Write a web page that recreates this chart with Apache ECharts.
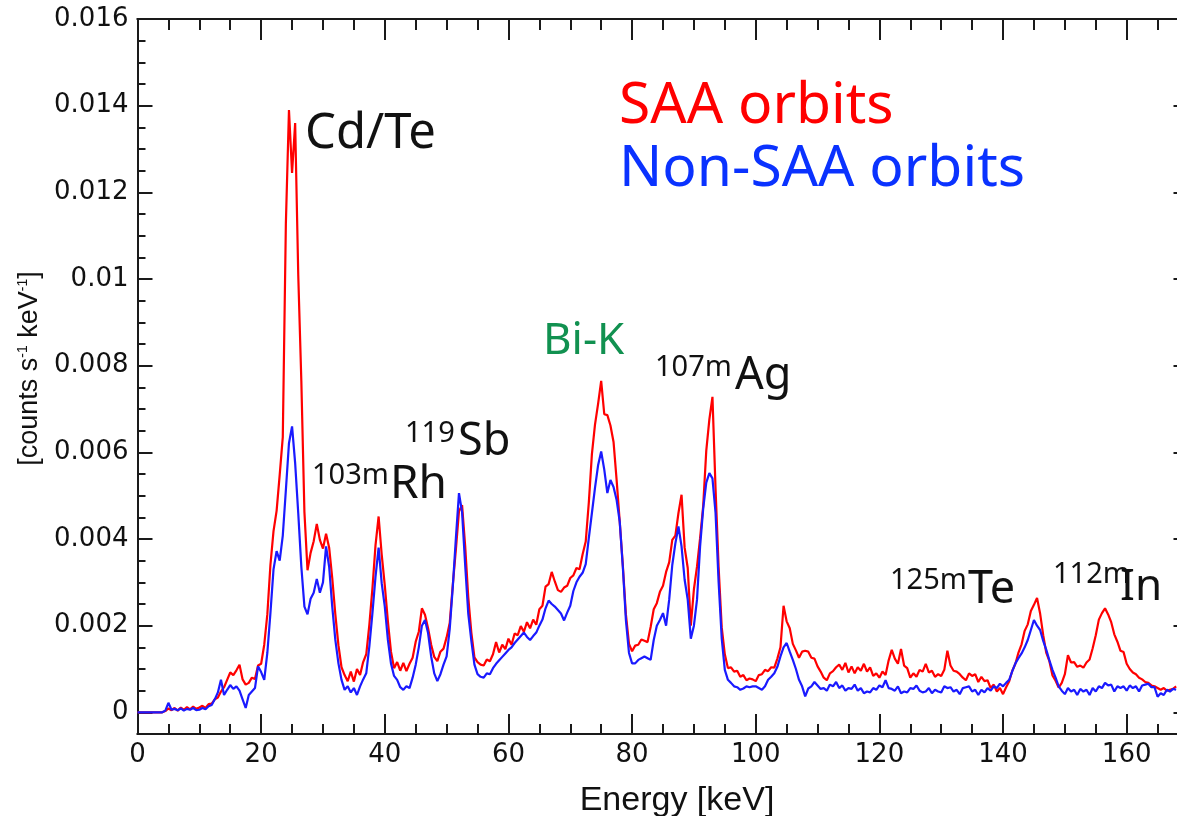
<!DOCTYPE html>
<html>
<head>
<meta charset="utf-8">
<script src="https://cdn.jsdelivr.net/npm/echarts@6/dist/echarts.min.js"></script>
<style>
  html, body { margin: 0; padding: 0; background: #fff; }
  #chart { width: 1177px; height: 816px; }
</style>
</head>
<body>
<div id="chart"></div>
<script>
// spectrum values in units of 1e-5 counts s^-1 keV^-1, one per 0.5 keV bin from 0 keV
const binWidth = 0.5

const saaOrbits = [
  0, 0, 0, 0, 0, 0, 0, 0, 0, 3, 9, 5, 10, 4, 11, 6, 12, 7, 13, 8,
  11, 15, 10, 19, 20, 30, 34, 48, 58, 75, 92, 86, 97, 110, 76, 64, 68, 80, 77, 108,
  112, 156, 226, 340, 418, 465, 548, 635, 1129, 1390, 1245, 1360, 1010, 765, 462, 328, 368, 395, 435, 398,
  378, 412, 380, 310, 226, 155, 104, 86, 72, 94, 71, 100, 86, 116, 134, 202, 286, 386, 452, 364,
  293, 210, 140, 102, 116, 96, 114, 95, 112, 126, 163, 186, 240, 225, 194, 156, 128, 118, 140, 147,
  173, 206, 294, 376, 464, 478, 384, 266, 184, 127, 116, 110, 108, 122, 118, 134, 162, 138, 156, 146,
  170, 156, 182, 178, 199, 186, 208, 194, 214, 202, 238, 246, 290, 296, 324, 302, 282, 278, 288, 292,
  310, 316, 333, 330, 365, 394, 484, 596, 664, 712, 765, 688, 686, 662, 624, 536, 440, 340, 226, 158,
  141, 154, 156, 168, 165, 162, 197, 238, 252, 278, 292, 324, 346, 398, 408, 460, 502, 380, 333, 200,
  284, 336, 402, 476, 604, 676, 728, 516, 334, 196, 134, 102, 104, 94, 96, 82, 86, 74, 78, 76,
  72, 86, 88, 98, 95, 104, 103, 124, 150, 246, 210, 194, 158, 143, 126, 140, 142, 140, 126, 124,
  106, 94, 80, 74, 90, 95, 104, 110, 98, 114, 92, 106, 90, 104, 96, 112, 94, 104, 84, 90,
  80, 94, 86, 120, 144, 124, 112, 146, 108, 102, 80, 90, 82, 98, 94, 112, 92, 96, 82, 88,
  84, 98, 142, 108, 96, 94, 88, 80, 74, 90, 84, 88, 70, 82, 72, 74, 56, 64, 48, 56,
  42, 58, 72, 96, 112, 138, 157, 188, 203, 234, 248, 264, 228, 178, 137, 118, 85, 73, 57, 68,
  88, 132, 115, 116, 105, 108, 103, 115, 122, 148, 178, 214, 229, 240, 226, 208, 180, 163, 142, 139,
  112, 100, 92, 88, 80, 76, 70, 68, 62, 60, 56, 52, 56, 50, 52, 54, 60
]

const nonSaaOrbits = [
  0, 0, 0, 0, 0, 0, 0, 0, 0, 4, 22, 6, 8, 5, 9, 4, 8, 6, 10, 5,
  6, 10, 7, 14, 17, 30, 46, 75, 40, 52, 63, 54, 60, 50, 30, 10, 40, 48, 56, 106,
  93, 75, 137, 229, 330, 372, 350, 408, 513, 621, 660, 575, 460, 336, 244, 226, 262, 276, 308, 276,
  300, 383, 336, 244, 167, 113, 75, 52, 60, 46, 56, 40, 60, 76, 90, 152, 229, 313, 380, 298,
  244, 167, 113, 84, 75, 58, 52, 60, 56, 80, 110, 150, 200, 213, 183, 129, 90, 72, 88, 110,
  129, 192, 290, 402, 506, 462, 340, 228, 165, 110, 88, 82, 80, 90, 88, 102, 112, 120, 128, 136,
  144, 150, 160, 168, 176, 184, 174, 167, 176, 184, 200, 214, 240, 258, 250, 244, 236, 228, 212, 230,
  246, 280, 300, 313, 322, 342, 402, 460, 518, 570, 602, 560, 506, 536, 520, 490, 440, 336, 213, 137,
  113, 113, 121, 125, 129, 125, 121, 167, 200, 213, 229, 200, 260, 340, 390, 429, 383, 306, 260, 170,
  200, 260, 383, 470, 530, 552, 540, 460, 300, 170, 98, 75, 68, 60, 58, 52, 55, 60, 58, 60,
  60, 56, 52, 60, 75, 82, 90, 105, 129, 150, 160, 140, 121, 100, 75, 60, 37, 55, 60, 70,
  62, 54, 56, 50, 64, 60, 70, 56, 62, 50, 56, 54, 64, 50, 56, 44, 48, 46, 56, 52,
  62, 58, 74, 56, 54, 50, 60, 44, 48, 46, 56, 54, 62, 50, 46, 48, 56, 44, 52, 48,
  46, 60, 56, 58, 48, 52, 42, 56, 58, 60, 48, 52, 40, 52, 46, 56, 50, 60, 56, 66,
  60, 68, 75, 95, 113, 125, 136, 150, 167, 190, 213, 200, 190, 165, 144, 120, 98, 80, 60, 50,
  42, 56, 48, 52, 40, 54, 48, 52, 40, 56, 48, 60, 56, 68, 62, 64, 48, 60, 56, 60,
  50, 62, 56, 60, 48, 62, 64, 66, 58, 58, 36, 44, 40, 52, 48, 54, 52
]

const yMajorTicks = [0, 200, 400, 600, 800, 1000, 1200, 1400, 1600]

const axisColor = '#1a1a1a'
const tickFont = 'DejaVu Sans'
const noteFont = 'Noto Sans'

const toPairs = values => values.map((v, i) => [i * binWidth, v])

// major / minor tick axes, drawn on every side of the frame
const frameX = (position, interval, length, extra) => Object.assign({
  type: 'value',
  position,
  min: 0,
  max: 170,
  interval,
  axisLine: { show: true, onZero: false, lineStyle: { color: axisColor, width: 2 } },
  axisTick: { show: true, inside: true, length, lineStyle: { color: axisColor, width: 2 } },
  axisLabel: { show: false },
  splitLine: { show: false }
}, extra)

const frameY = (position, tick, extra) => Object.assign({
  type: 'value',
  position,
  min: -50,
  max: 1600,
  axisLine: { show: true, onZero: false, lineStyle: { color: axisColor, width: 2 } },
  axisTick: Object.assign({ show: true, inside: true, lineStyle: { color: axisColor, width: 2 } }, tick),
  axisLabel: { show: false },
  splitLine: { show: false }
}, extra)

const note = (text, x, y, size, color) => ({
  type: 'text',
  x,
  y,
  style: {
    text,
    fill: color || '#111',
    font: size + 'px "' + noteFont + '"',
    textAlign: 'left',
    textVerticalAlign: 'middle'
  }
})

const option = {
  animation: false,
  backgroundColor: '#fff',
  grid: { left: 137.5, width: 1051, top: 19, bottom: 82, containLabel: false, outerBoundsMode: 'none' },
  xAxis: [
    frameX('bottom', 20, 20, {
      axisLabel: {
        show: true,
        color: '#111',
        fontFamily: tickFont,
        fontSize: 26,
        margin: 8,
        showMaxLabel: false
      },
      name: 'Energy [keV]',
      nameLocation: 'middle',
      nameGap: 50,
      nameTextStyle: { fontFamily: 'Liberation Sans', fontSize: 34, color: '#111', padding: [0, 0, 0, 28] }
    }),
    frameX('bottom', 5, 10),
    frameX('top', 20, 21),
    frameX('top', 5, 11)
  ],
  yAxis: [
    frameY('left', { length: 15, customValues: yMajorTicks }, {
      axisLabel: {
        show: true,
        customValues: yMajorTicks,
        color: '#111',
        fontFamily: tickFont,
        fontSize: 26,
        margin: 9,
        formatter: v => String(v / 1e5)
      },
      name: '[counts s{sup|-1} keV{sup|-1}]',
      nameLocation: 'middle',
      nameGap: 92,
      nameTextStyle: {
        fontFamily: 'Liberation Sans',
        fontSize: 27,
        color: '#111',
        padding: [0, 0, 0, 16],
        rich: {
          sup: { fontFamily: 'Liberation Sans', fontSize: 14, color: '#111', verticalAlign: 'top' }
        }
      }
    }),
    frameY('left', { length: 8 }, { interval: 50 }),
    frameY('right', { length: 15, customValues: yMajorTicks }),
    frameY('right', { length: 8 }, { interval: 50 })
  ],
  series: [
    {
      name: 'SAA orbits',
      type: 'line',
      showSymbol: false,
      data: toPairs(saaOrbits),
      lineStyle: { color: '#ff0000', width: 2.2 },
      itemStyle: { color: '#ff0000' }
    },
    {
      name: 'Non-SAA orbits',
      type: 'line',
      showSymbol: false,
      data: toPairs(nonSaaOrbits),
      lineStyle: { color: '#1a1aff', width: 2.2 },
      itemStyle: { color: '#1a1aff' }
    }
  ],
  graphic: [
    note('SAA orbits', 619, 107, 57, '#ff0000'),
    note('Non-SAA orbits', 619, 170, 57, '#0a32ff'),
    note('Cd/Te', 305, 134, 49),
    note('Bi-K', 543, 341, 44, '#119150'),
    note('107m', 655, 368, 29),
    note('Ag', 735, 376, 45),
    note('119', 405, 434, 29),
    note('Sb', 458, 442, 45),
    note('103m', 312, 476, 29),
    note('Rh', 390, 485, 46),
    note('125m', 890, 581, 29),
    note('Te', 968, 590, 45),
    note('112m', 1053, 575, 29),
    note('In', 1120, 587, 44)
  ]
}

const chart = echarts.init(document.getElementById('chart'))
chart.setOption(option)
window.addEventListener('resize', () => chart.resize())
</script>
</body>
</html>
